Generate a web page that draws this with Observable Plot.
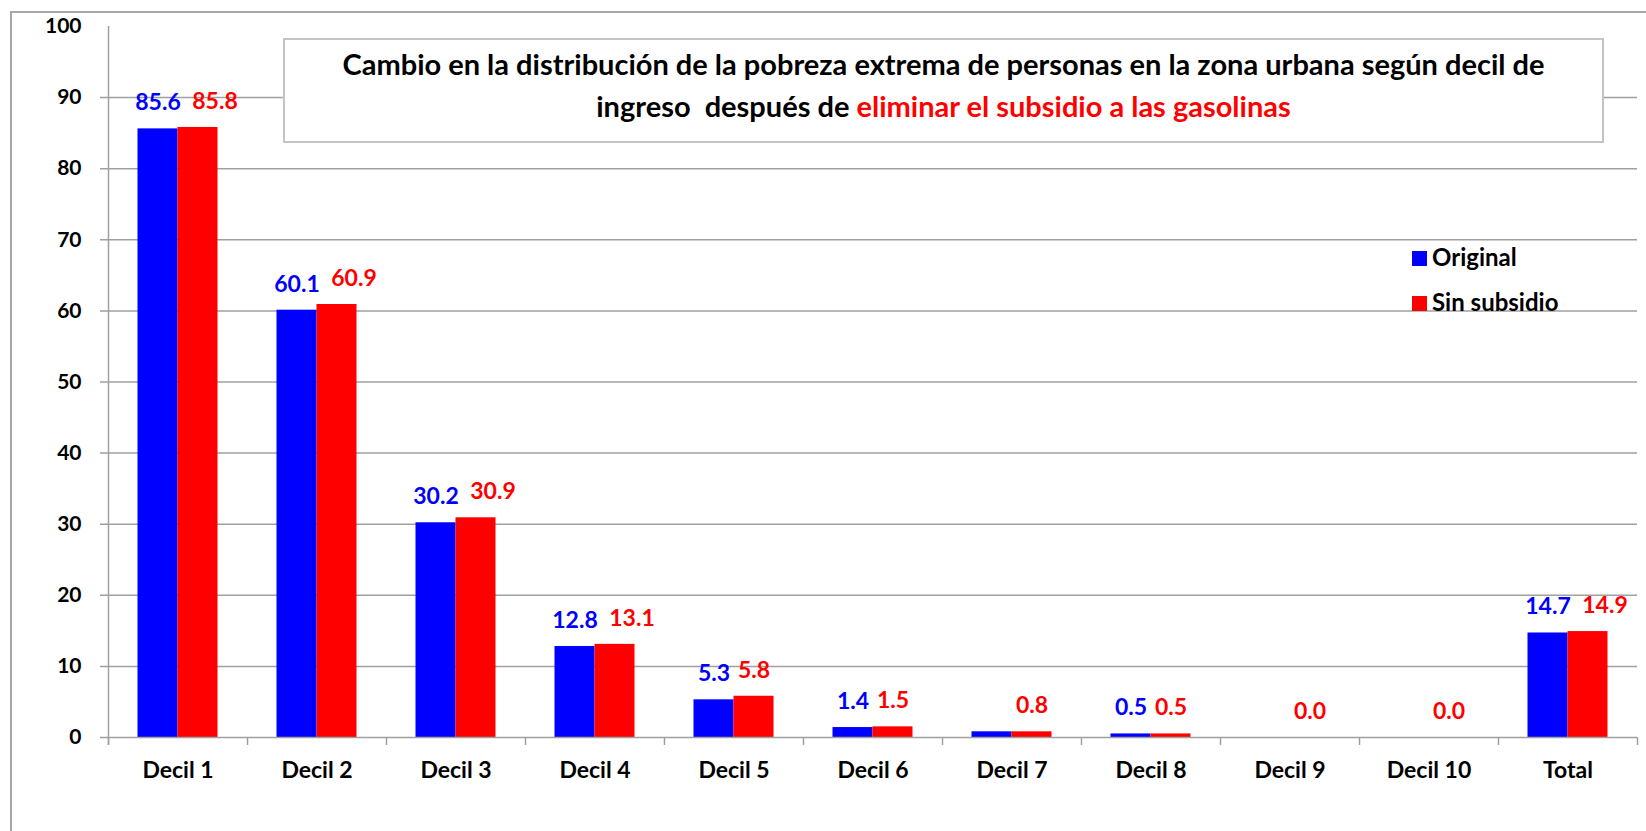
<!DOCTYPE html>
<html>
<head>
<meta charset="utf-8">
<script src="https://cdn.jsdelivr.net/npm/d3@7"></script>
<script src="https://cdn.jsdelivr.net/npm/@observablehq/plot@0.6"></script>
<style>
  html, body { margin: 0; padding: 0; background: #fff; overflow: hidden; }
  #wrap { position: relative; width: 1646px; height: 831px; overflow: hidden; font-family: Lato, "Open Sans", sans-serif; }
  #frame { position: absolute; left: 10px; top: 11px; width: 1700px; height: 900px; border: 2px solid #a6a6a6; box-sizing: border-box; }
  #chart { position: absolute; left: 0; top: 0; }
  #title { position: absolute; left: 283px; top: 38px; width: 1321px; height: 105px; box-sizing: border-box;
           border: 2px solid #c4c4c4; background: #fff; text-align: center; font-weight: bold; font-size: 29px;
           line-height: 42px; padding-top: 3px; color: #000; white-space: nowrap; }
  #title .hl { color: #ff0000; }
  #legend { position: absolute; left: 1412px; top: 242px; font-weight: bold; font-size: 24px; color: #000; }
  #legend .item { position: absolute; left: 0; white-space: nowrap; height: 30px; line-height: 30px; }
  #legend .sw { display: inline-block; width: 15px; height: 15px; vertical-align: 0px; margin-right: 5px; }
</style>
</head>
<body>
<div id="wrap">
  <div id="frame"></div>
  <div id="chart"></div>
  <div id="title">Cambio en la distribución de la pobreza extrema de personas en la zona urbana según decil de<br>ingreso&nbsp; después de <span class="hl">eliminar el subsidio a las gasolinas</span></div>
  <div id="legend"></div>
</div>
<script>
// ---- data ----
const categories = ["Decil 1","Decil 2","Decil 3","Decil 4","Decil 5","Decil 6","Decil 7","Decil 8","Decil 9","Decil 10","Total"];
const seriesNames = ["Original","Sin subsidio"];
const original    = [85.6, 60.1, 30.2, 12.8, 5.3, 1.4, 0.8, 0.5, 0.0, 0.0, 14.7];
const sinSubsidio = [85.8, 60.9, 30.9, 13.1, 5.8, 1.5, 0.8, 0.5, 0.0, 0.0, 14.9];
const hiddenOriginalLabels = ["Decil 7","Decil 9","Decil 10"];
const yTickValues = [0,10,20,30,40,50,60,70,80,90,100];
const gridValues  = [10,20,30,40,50,60,70,80,90];
const colors = {"Original": "#0000ff", "Sin subsidio": "#ff0000"};

// ---- layout ----
const W = 1646, H = 831, ML = 108, MR = 9, MT = 26, MB = 94;
const bw = (W - ML - MR) / categories.length;
const barW = 40;
const fmt = d3.format(".1f");
const gray = "#a0a0a0";

const origRows = categories.map((c, i) => ({cat: c, series: seriesNames[0], value: original[i]}));
const sinRows  = categories.map((c, i) => ({cat: c, series: seriesNames[1], value: sinSubsidio[i]}));
const origLabels = origRows.filter(d => !hiddenOriginalLabels.includes(d.cat));
const wide = d => fmt(original[categories.indexOf(d.cat)]).length >= 4 && fmt(d.value).length >= 4;
const sinLabelsNarrow = sinRows.filter(d => !wide(d));
const sinLabelsWide   = sinRows.filter(d => wide(d));

const plot = Plot.plot({
  width: W, height: H,
  marginLeft: ML, marginRight: MR, marginTop: MT, marginBottom: MB,
  x: {domain: categories, padding: 0, axis: null},
  y: {domain: [0, 100], axis: null},
  style: {fontFamily: "Lato, 'Open Sans', sans-serif", background: "transparent", overflow: "visible"},
  marks: [
    Plot.ruleY(gridValues, {stroke: gray, strokeWidth: 1.5, insetLeft: -8}),
    Plot.barY(origRows, {x: "cat", y: "value", fill: colors["Original"], insetLeft: bw / 2 - barW, insetRight: bw / 2}),
    Plot.barY(sinRows, {x: "cat", y: "value", fill: colors["Sin subsidio"], insetLeft: bw / 2, insetRight: bw / 2 - barW}),
    Plot.ruleY([0], {stroke: gray, strokeWidth: 1.5, insetLeft: -8}),
    Plot.ruleX(categories, {x: d => d, dx: -bw / 2, y1: 0, y2: 0, insetTop: 8, stroke: gray, strokeWidth: 1.5}),
    Plot.ruleX([categories[categories.length - 1]], {x: d => d, dx: bw / 2, y1: 0, y2: 0, insetTop: 8, stroke: gray, strokeWidth: 1.5}),
    Plot.ruleX([categories[0]], {x: d => d, dx: -bw / 2, y1: 0, y2: 100, insetTop: 8, stroke: gray, strokeWidth: 1.5}),
    Plot.text(yTickValues, {y: d => d, frameAnchor: "left", dx: -27, textAnchor: "end", text: d => String(d),
      fontSize: 21, fontWeight: "bold", fill: "#000"}),
    Plot.text(categories, {x: d => d, y: 0, dy: 33, text: d => d, fontSize: 23, fontWeight: "bold", fill: "#000"}),
    Plot.text(origLabels, {x: "cat", y: "value", text: d => fmt(d.value), dx: -barW / 2, dy: -26,
      fontSize: 23, fontWeight: "bold", fill: colors["Original"]}),
    Plot.text(sinLabelsNarrow, {x: "cat", y: "value", text: d => fmt(d.value), dx: barW / 2, dy: -26,
      fontSize: 23, fontWeight: "bold", fill: colors["Sin subsidio"]}),
    Plot.text(sinLabelsWide, {x: "cat", y: "value", text: d => fmt(d.value), dx: barW / 2 + 17, dy: -26,
      fontSize: 23, fontWeight: "bold", fill: colors["Sin subsidio"]})
  ]
});
document.getElementById("chart").appendChild(plot);

// legend
const legend = document.getElementById("legend");
seriesNames.forEach((s, i) => {
  const item = document.createElement("div");
  item.className = "item";
  item.style.top = (i * 45) + "px";
  item.innerHTML = `<span class="sw" style="background:${colors[s]}"></span>${s}`;
  legend.appendChild(item);
});
</script>
</body>
</html>
